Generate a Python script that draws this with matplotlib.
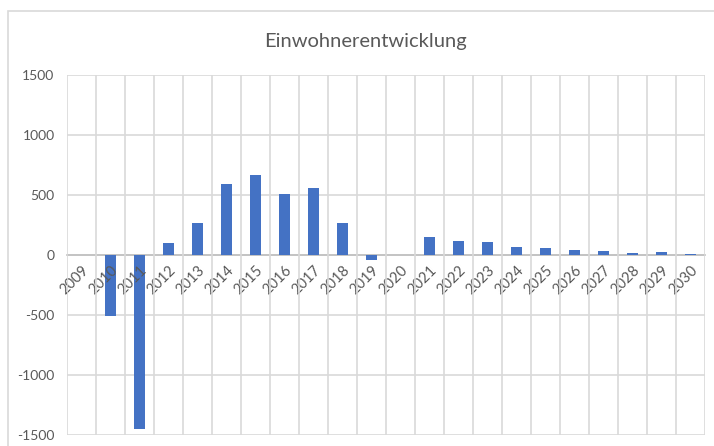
import numpy as np
import matplotlib
matplotlib.use("Agg")
import matplotlib.pyplot as plt
from matplotlib.patches import Rectangle

# Einwohnerentwicklung per year
years = [str(y) for y in range(2009, 2031)]
values = [0, -510, -1450, 100, 270, 595, 665, 505, 560, 270, -45,
          0, 150, 120, 105, 70, 61, 42, 36, 20, 28, 12]
yticks = [-1500, -1000, -500, 0, 500, 1000, 1500]

bar_color = '#4472C4'
grid_color = '#D9D9D9'
text_color = '#595959'

plt.rcParams['font.family'] = ['Lato', 'DejaVu Sans']

fig = plt.figure(figsize=(7.14, 4.46), dpi=100)
ax = fig.add_axes([67/714, 11/446, (705-67)/714, (435-75)/446])

# outer chart border
fig.patches.append(Rectangle((8/714, -0.1), 1.0, 1 - 11/446 + 0.1,
                             transform=fig.transFigure, fill=False,
                             edgecolor=grid_color, lw=1.2))

x = np.arange(len(years))
ax.bar(x, values, width=0.4, color=bar_color, zorder=2)

ax.set_xlim(-0.5, len(years) - 0.5)
ax.set_ylim(-1500, 1500)
ax.set_yticks(yticks)
ax.set_yticklabels([str(v) for v in yticks])

# gridlines at category boundaries
ax.set_xticks(x)
ax.set_xticks(np.arange(-0.5, len(years), 1), minor=True)
ax.set_xticklabels(years)
ax.grid(True, which='minor', axis='x', color=grid_color, lw=1.2)
ax.grid(True, which='major', axis='y', color=grid_color, lw=1.2)
ax.set_axisbelow(True)
# x labels sit on top of the bars (vertical grid never touches bars)
ax.xaxis.set_zorder(3)

for s in ['top', 'right', 'left']:
    ax.spines[s].set_visible(False)
ax.spines['bottom'].set_position(('data', 0))
ax.spines['bottom'].set_color('#BFBFBF')
ax.spines['bottom'].set_linewidth(1.2)
ax.spines['bottom'].set_zorder(1)

ax.tick_params(axis='both', which='both', length=0, labelsize=10,
               labelcolor=text_color)
ax.tick_params(axis='y', pad=9)
ax.tick_params(axis='x', pad=6, labelrotation=45, labelsize=10.5)
plt.setp(ax.get_xticklabels(), ha='right', va='top', rotation_mode='anchor')

fig.text(366/714, 1 - 42/446, 'Einwohnerentwicklung', ha='center',
         va='center', fontsize=14.5, color=text_color)

fig.savefig('out.png', dpi=100)
